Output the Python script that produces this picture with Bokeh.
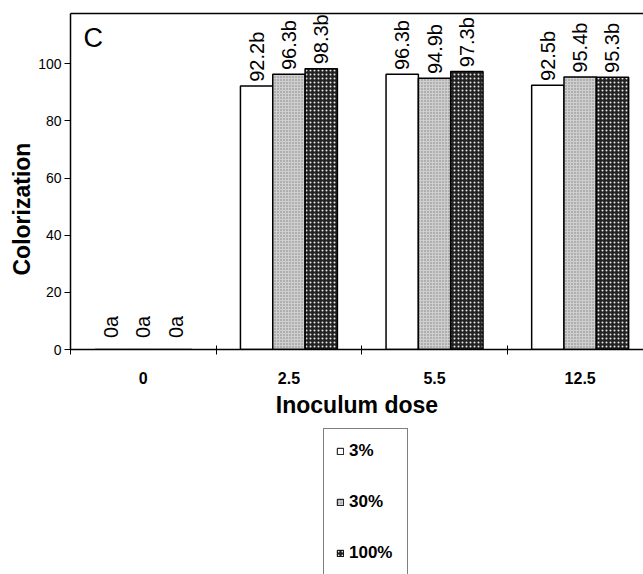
import math
from bokeh.plotting import figure
from bokeh.layouts import column
from bokeh.models import (ColumnDataSource, Range1d, LinearAxis, FixedTicker,
                          Legend, LegendItem, Label, Title)
from bokeh.embed import file_html
from bokeh.resources import INLINE
from bokeh.core.properties import value

# ---- data ----
categories = ["0", "2.5", "5.5", "12.5"]
series_names = ["3%", "30%", "100%"]
vals_3 = [0, 92.2, 96.3, 92.5]
vals_30 = [0, 96.3, 94.9, 95.4]
vals_100 = [0, 98.3, 97.3, 95.3]
labels_3 = ["0a", "92.2b", "96.3b", "92.5b"]
labels_30 = ["0a", "96.3b", "94.9b", "95.4b"]
labels_100 = ["0a", "98.3b", "97.3b", "95.3b"]
y_ticks = [0, 20, 40, 60, 80, 100]

FONT = "Liberation Sans"
BAR_W = 0.222

p = figure(width=643, height=420, output_backend="svg", toolbar_location=None,
           x_range=Range1d(0, 3.935), y_range=Range1d(0, 117.6),
           x_axis_type=None, y_axis_type=None,
           min_border_left=70, min_border_right=0, min_border_top=13,
           min_border_bottom=69)
p.outline_line_color = None
p.xgrid.visible = False
p.ygrid.visible = False
p.background_fill_color = "white"
p.border_fill_color = "white"

# axes
yax = LinearAxis(ticker=FixedTicker(ticks=y_ticks, minor_ticks=[]),
                 major_tick_out=6, major_tick_in=0, minor_tick_out=0, minor_tick_in=0,
                 major_label_text_font=FONT, major_label_text_font_size="14px",
                 major_label_text_color="black",
                 major_label_standoff=3, axis_line_width=1.5, major_tick_line_width=1)
p.add_layout(yax, "left")

centers = [i + 0.5 for i in range(len(categories))]
xax = LinearAxis(ticker=FixedTicker(ticks=centers, minor_ticks=[0, 1, 2, 3]),
                 major_label_overrides={c: cat for c, cat in zip(centers, categories)},
                 major_tick_out=0, major_tick_in=0, minor_tick_out=5, minor_tick_in=4,
                 major_label_text_font=FONT, major_label_text_font_size="16px",
                 major_label_text_font_style="bold", major_label_text_color="black",
                 major_label_standoff=17,
                 axis_label="Inoculum dose", axis_label_text_font=FONT,
                 axis_label_text_font_size="23px", axis_label_text_font_style="bold",
                 axis_label_text_color="black",
                 axis_label_standoff=5, axis_line_width=1.5)
p.add_layout(xax, "below")

top_ax = LinearAxis(ticker=FixedTicker(ticks=[]), major_tick_out=0, minor_tick_out=0,
                    major_label_text_font_size="0px", axis_line_width=1.5)
p.add_layout(top_ax, "above")

# y axis title (side title so it can sit lower than the frame centre)
p.add_layout(Title(text="Colorization", align="left", offset=74, text_font=FONT,
                   text_font_size="23px", text_font_style="bold",
                   text_color="black", standoff=2), "left")

# bars
offsets = [-BAR_W, 0.0, BAR_W]
all_vals = [vals_3, vals_30, vals_100]
all_labels = [labels_3, labels_30, labels_100]
styles = [
    dict(fill_color="white"),
    dict(fill_color="#cfcfcf", hatch_pattern="dot", hatch_color="#808080",
         hatch_scale=3, hatch_weight=1),
    dict(fill_color="#222222", hatch_pattern="dot", hatch_color="#e8e8e8",
         hatch_scale=4, hatch_weight=1.5),
]
for vals, labs, off, st in zip(all_vals, all_labels, offsets, styles):
    xs = [c + off for c in centers]
    src = ColumnDataSource(dict(x=xs, top=vals))
    p.vbar(x="x", top="top", width=BAR_W, source=src,
           line_color="black", line_width=1.5, **st)
    ly = [v + 1.5 if v > 0 else 4.0 for v in vals]
    tsrc = ColumnDataSource(dict(x=xs, y=ly, t=labs))
    p.text(x="x", y="y", text="t", source=tsrc, angle=math.pi / 2,
           text_align="left", text_baseline="middle",
           text_font=value(FONT), text_font_size="20px", text_color="black")

# panel letter
p.add_layout(Label(x=0.09, y=109.2, text="C", text_font=FONT,
                   text_font_size="27px", text_baseline="alphabetic",
                   text_color="black"))

# ---- legend figure below ----
lg = figure(width=643, height=154, output_backend="svg", toolbar_location=None,
            x_range=Range1d(0, 1), y_range=Range1d(0, 1),
            x_axis_type=None, y_axis_type=None, min_border=0)
lg.outline_line_color = None
lg.xgrid.visible = False
lg.ygrid.visible = False
lg.border_fill_color = "white"
lg.background_fill_color = "white"
leg_renderers = []
for st in styles:
    # swatch-only renderers, placed outside the visible range
    r = lg.vbar(x=[5], top=[1], width=0.1, line_color="black", line_width=1, **st)
    leg_renderers.append(r)

legend = Legend(items=[LegendItem(label=n, renderers=[r])
                       for n, r in zip(series_names, leg_renderers)],
                location=(253, -2), orientation="vertical",
                border_line_color="black", border_line_width=1,
                background_fill_color="white", padding=12, spacing=31,
                label_height=20, label_width=46, glyph_width=8, glyph_height=8,
                label_standoff=5, label_text_font=FONT, label_text_font_size="17px",
                label_text_font_style="bold", label_text_color="black", margin=0)
lg.add_layout(legend, "center")

layout = column(p, lg, spacing=0)
open("out.html", "w").write(file_html(layout, INLINE))
